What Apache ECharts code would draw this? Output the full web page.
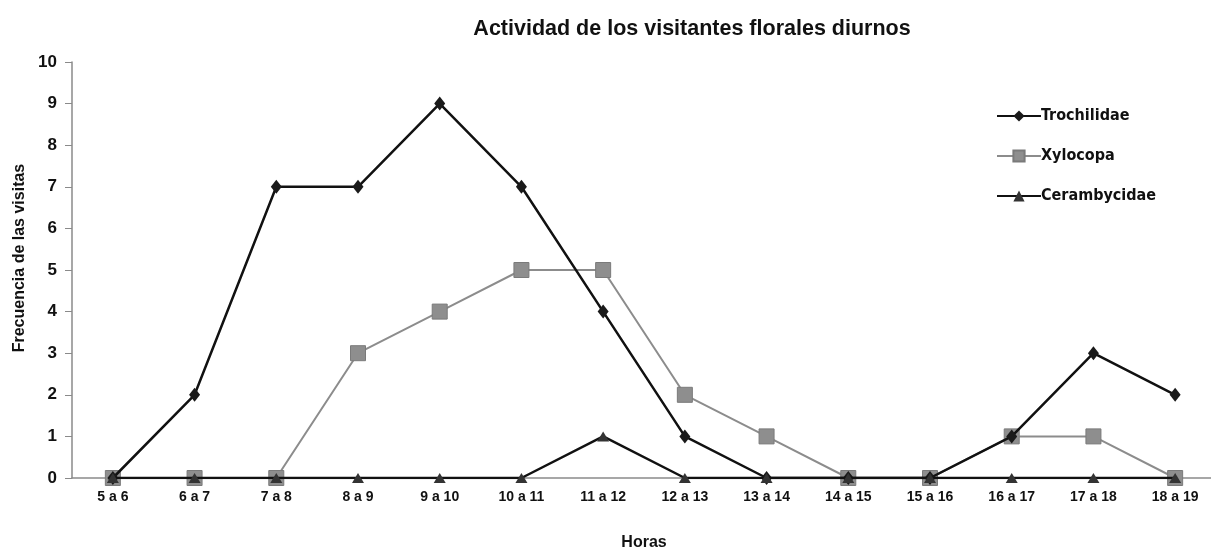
<!DOCTYPE html>
<html>
<head>
<meta charset="utf-8">
<script src="https://cdn.jsdelivr.net/npm/echarts@6/dist/echarts.min.js"></script>
<style>
html, body { margin: 0; padding: 0; background: #fff; }
#main { width: 1211px; height: 552px; }
</style>
</head>
<body>
<div id="main"></div>
<script>
var horas = ['5 a 6', '6 a 7', '7 a 8', '8 a 9', '9 a 10', '10 a 11', '11 a 12', '12 a 13', '13 a 14', '14 a 15', '15 a 16', '16 a 17', '17 a 18', '18 a 19'];
var trochilidae = [0, 2, 7, 7, 9, 7, 4, 1, 0, 0, 0, 1, 3, 2];
var xylocopa = [0, 0, 0, 3, 4, 5, 5, 2, 1, 0, 0, 1, 1, 0];
var cerambycidae = [0, 0, 0, 0, 0, 0, 1, 0, 0, 0, 0, 0, 0, 0];

var fontBold = { fontFamily: 'Liberation Sans, Arial, sans-serif', fontWeight: 'bold', color: '#111' };

var myChart = echarts.init(document.getElementById('main'));

myChart.setOption({
    backgroundColor: '#fff',
    animation: false,
    title: {
        text: 'Actividad de los visitantes florales diurnos',
        left: 687,
        top: 13,
        textAlign: 'center',
        textStyle: { fontFamily: 'Liberation Sans, Arial, sans-serif', fontWeight: 'bold', fontSize: 21.5, color: '#111' }
    },
    grid: {
        left: 72,
        right: -5,
        top: 62,
        bottom: 74,
        outerBoundsMode: 'none'
    },
    legend: {
        orient: 'vertical',
        left: 991,
        top: 103,
        itemGap: 24,
        itemWidth: 44,
        itemHeight: 14,
        textStyle: { fontFamily: 'DejaVu Sans Condensed, DejaVu Sans, sans-serif', fontWeight: 'bold', fontSize: 16, color: '#111', padding: [0, 0, 0, -5] },
        data: ['Trochilidae', 'Xylocopa', 'Cerambycidae']
    },
    xAxis: {
        type: 'category',
        data: horas,
        boundaryGap: true,
        name: 'Horas',
        nameLocation: 'middle',
        nameGap: 57,
        nameTextStyle: Object.assign({ fontSize: 16 }, fontBold),
        axisLine: { lineStyle: { color: '#8a8a8a', width: 1.5 } },
        axisTick: { show: false },
        axisLabel: Object.assign({ fontSize: 14, margin: 12 }, fontBold)
    },
    yAxis: {
        type: 'value',
        min: 0,
        max: 10,
        interval: 1,
        name: 'Frecuencia de las visitas',
        nameLocation: 'middle',
        nameGap: 44,
        nameTextStyle: Object.assign({ fontSize: 16, padding: [0, 0, 0, 24] }, fontBold),
        axisLine: { show: true, lineStyle: { color: '#8a8a8a', width: 1.5 } },
        axisTick: { show: true, length: 7, lineStyle: { color: '#8a8a8a' } },
        splitLine: { show: false },
        axisLabel: Object.assign({ fontSize: 17, margin: 15 }, fontBold)
    },
    series: [
        {
            name: 'Xylocopa',
            type: 'line',
            data: xylocopa,
            symbol: 'rect',
            symbolSize: 15,
            lineStyle: { color: '#8c8c8c', width: 2 },
            itemStyle: { color: '#8e8e8e', borderColor: '#7a7a7a', borderWidth: 1 },
            z: 2
        },
        {
            name: 'Trochilidae',
            type: 'line',
            data: trochilidae,
            symbol: 'diamond',
            symbolSize: [11, 14],
            lineStyle: { color: '#111', width: 2.5 },
            itemStyle: { color: '#1a1a1a' },
            z: 3
        },
        {
            name: 'Cerambycidae',
            type: 'line',
            data: cerambycidae,
            symbol: 'triangle',
            symbolSize: [12, 10],
            lineStyle: { color: '#111', width: 2.5 },
            itemStyle: { color: '#333' },
            z: 4
        }
    ]
});
</script>
</body>
</html>
